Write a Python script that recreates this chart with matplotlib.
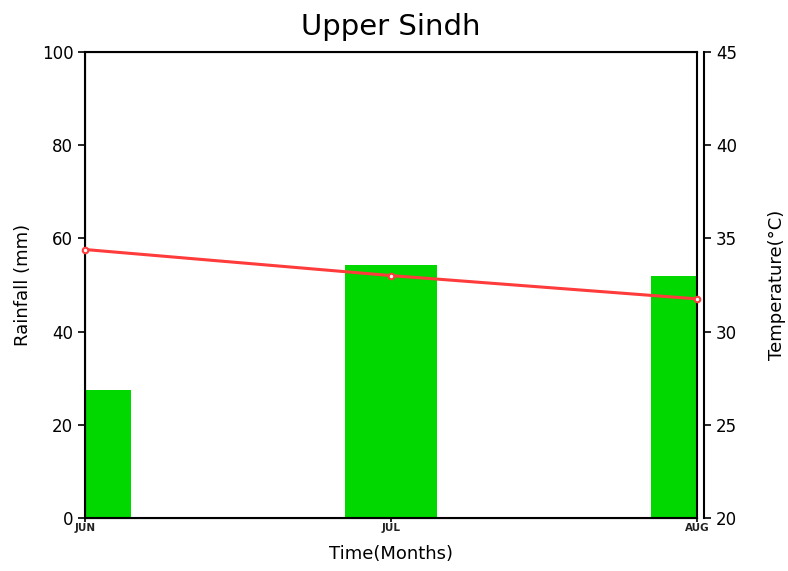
import matplotlib
matplotlib.use("Agg")
import matplotlib.pyplot as plt

# data
months = ["JUN", "JUL", "AUG"]
rainfall = [27.5, 54.3, 52.0]        # mm
temperature = [34.4, 33.0, 31.75]    # deg C

x = list(range(len(months)))

fig = plt.figure(figsize=(7.88, 5.71), dpi=100)
ax = fig.add_axes([0.108, 0.093, 0.777, 0.816])

ax.bar(x, rainfall, width=0.3, color="#00d800", zorder=2)
ax.set_xlim(0, 2)
ax.set_ylim(0, 100)
ax.set_yticks([0, 20, 40, 60, 80, 100])
ax.set_xticks(x)
ax.set_xticklabels(months, fontsize=7.5, fontweight="bold", color="#222222")
ax.tick_params(axis="y", labelsize=12, direction="out", length=5, width=1.2)
ax.tick_params(axis="x", direction="out", length=3, width=1.2, pad=1)
for s in ax.spines.values():
    s.set_linewidth(1.5)
ax.set_ylabel("Rainfall (mm)", fontsize=13, labelpad=7)
ax.set_xlabel("Time(Months)", fontsize=13, labelpad=8)
ax.set_title("Upper Sindh", fontsize=21, pad=12)

ax2 = ax.twinx()
ax2.plot(x, temperature, "-o", color="#ff3b3b", linewidth=2.2,
         markersize=4, markerfacecolor="white", markeredgecolor="#ff3b3b",
         markeredgewidth=1.5, clip_on=False, zorder=3)
ax2.set_ylim(20, 45)
ax2.set_yticks([20, 25, 30, 35, 40, 45])
ax2.spines["right"].set_position(("outward", 5))
ax2.spines["right"].set_linewidth(1.5)
ax2.tick_params(axis="y", labelsize=12, direction="out", length=5, width=1.2)
ax2.set_ylabel("Temperature(\u00b0C)", fontsize=13, labelpad=22)

fig.savefig("out.png", dpi=100)
